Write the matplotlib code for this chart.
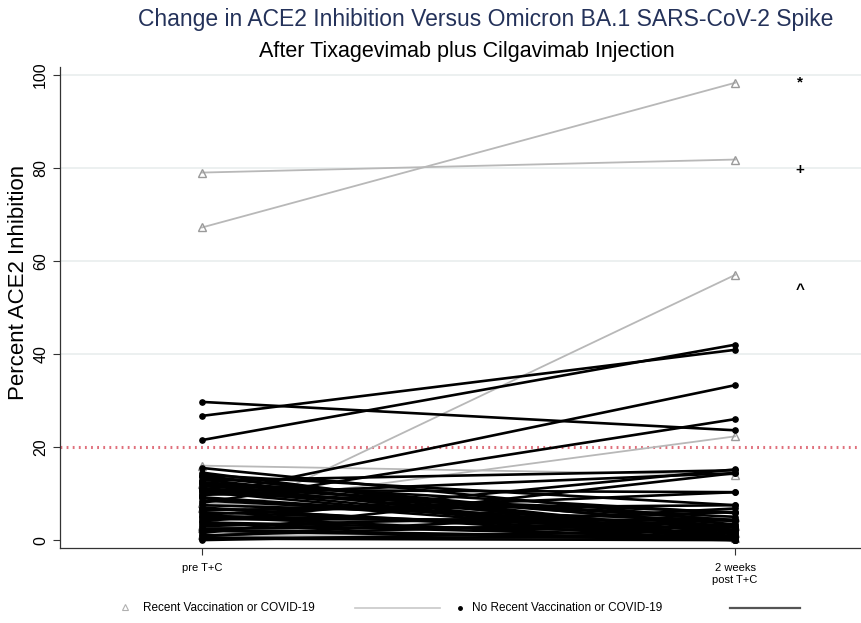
import matplotlib
matplotlib.use("Agg")
import matplotlib.pyplot as plt
from matplotlib.lines import Line2D

plt.rcParams['font.family'] = ['Liberation Sans', 'DejaVu Sans']

# time points
time_labels = ["pre T+C", "2 weeks\npost T+C"]
time_x = [1, 2]

# recent vaccination or COVID-19 (grey triangles)
recent_pre = [79.0, 67.2, 2.5, 7.0, 16.0, 12.0, 8.0, 3.0, 1.0]
recent_post = [81.8, 98.3, 57.0, 22.3, 14.0, 0.5, 3.0, 5.0, 1.5]

# no recent vaccination or COVID-19 (black dots)
norecent_pre = [29.7, 26.7, 21.5, 15.5, 14.5, 14.0, 13.5, 13.0, 12.8, 12.4,
                12.0, 11.6, 11.2, 10.8, 10.4, 10.0, 9.7, 9.5, 9.0, 8.5,
                8.0, 7.5, 7.0, 6.5, 6.0, 5.5, 5.0, 4.5, 4.0, 3.5,
                3.0, 2.5, 2.0, 1.5, 1.0, 0.5, 0.0, 0.3, 13.8, 12.2,
                11.0, 10.6, 9.2, 6.8, 5.2, 3.8, 2.2, 0.8]
norecent_post = [23.6, 40.9, 42.0, 4.0, 0.0, 7.5, 2.8, 0.6, 15.0, 5.8,
                 0.0, 4.3, 2.2, 10.3, 0.0, 6.0, 14.4, 33.3, 0.6, 2.8,
                 26.0, 4.3, 0.0, 7.5, 2.2, 10.3, 0.0, 4.3, 15.2, 0.6,
                 6.0, 2.8, 0.0, 14.4, 4.3, 0.6, 2.2, 0.0, 1.2, 3.4,
                 0.3, 5.0, 1.8, 0.9, 3.2, 1.5, 0.4, 6.8]

threshold = 20
# significance marks next to the top grey subjects
marks = ["*", "+", "^"]
mark_y = [98.3, 79.6, 53.8]

fig = plt.figure(figsize=(8.62, 6.23), dpi=100)
ax = fig.add_axes([0.0696, 0.1204, 0.9304, 0.7721])

grey_line = "#b8b8b8"
grey_mark = "#9a9a9a"

for yv in [40, 60, 80, 100]:
    ax.axhline(yv, color="#e9eeee", lw=1.2, zorder=0)
ax.axhline(threshold, color="#e0707c", lw=2.2, ls=(0, (0.6, 1.4)), zorder=1)

for a, b in zip(recent_pre, recent_post):
    ax.plot(time_x, [a, b], color=grey_line, lw=1.3, marker="^", ms=6,
            mfc="none", mec=grey_mark, mew=1.0, zorder=2)

for a, b in zip(norecent_pre, norecent_post):
    ax.plot(time_x, [a, b], color="black", lw=1.9, marker="o", ms=3.8,
            mfc="black", mec="black", zorder=3)

for m, yv in zip(marks, mark_y):
    ax.text(2.122, yv, m, ha="center", va="center", fontsize=11, fontweight="bold")

ax.set_xlim(0.7336, 2.238)
ax.set_ylim(-1.7, 101.7)
ax.set_xticks(time_x)
ax.set_xticklabels(time_labels, fontsize=8)
ax.set_yticks([0, 20, 40, 60, 80, 100])
ax.set_yticklabels(["0", "20", "40", "60", "80", "100"], rotation=90,
                   va="center", fontsize=11.5)
ax.tick_params(axis="both", direction="out", length=5, width=0.8, color="#333333")
ax.tick_params(axis="x", pad=6)
for s in ["top", "right"]:
    ax.spines[s].set_visible(False)
for s in ["left", "bottom"]:
    ax.spines[s].set_color("#333333")
    ax.spines[s].set_linewidth(0.9)
ax.set_ylabel("Percent ACE2 Inhibition", fontsize=16)
ax.yaxis.set_label_coords(-0.039, 0.553)

fig.text(0.563, 0.968, "Change in ACE2 Inhibition Versus Omicron BA.1 SARS-CoV-2 Spike",
         ha="center", va="center", fontsize=16.5, color="#24325a")
fig.text(0.542, 0.918, "After Tixagevimab plus Cilgavimab Injection",
         ha="center", va="center", fontsize=15.5, color="black")

# legend drawn along the bottom
ly = 0.024
fig.add_artist(Line2D([0.145], [ly + 0.002], marker="^", ms=5, mfc="none",
                      mec="#b0b0b0", mew=0.8, ls="none"))
fig.text(0.166, ly, "Recent Vaccination or COVID-19", fontsize=8.5, va="center")
fig.add_artist(Line2D([0.412, 0.51], [ly, ly], color="#c8c8c8", lw=1.2))
fig.add_artist(Line2D([0.534], [ly], marker="o", ms=2.5, color="black", ls="none"))
fig.text(0.548, ly, "No Recent Vaccination or COVID-19", fontsize=8.5, va="center")
fig.add_artist(Line2D([0.847, 0.928], [ly, ly], color="#555555", lw=1.6))

fig.savefig("out.png", dpi=100)
